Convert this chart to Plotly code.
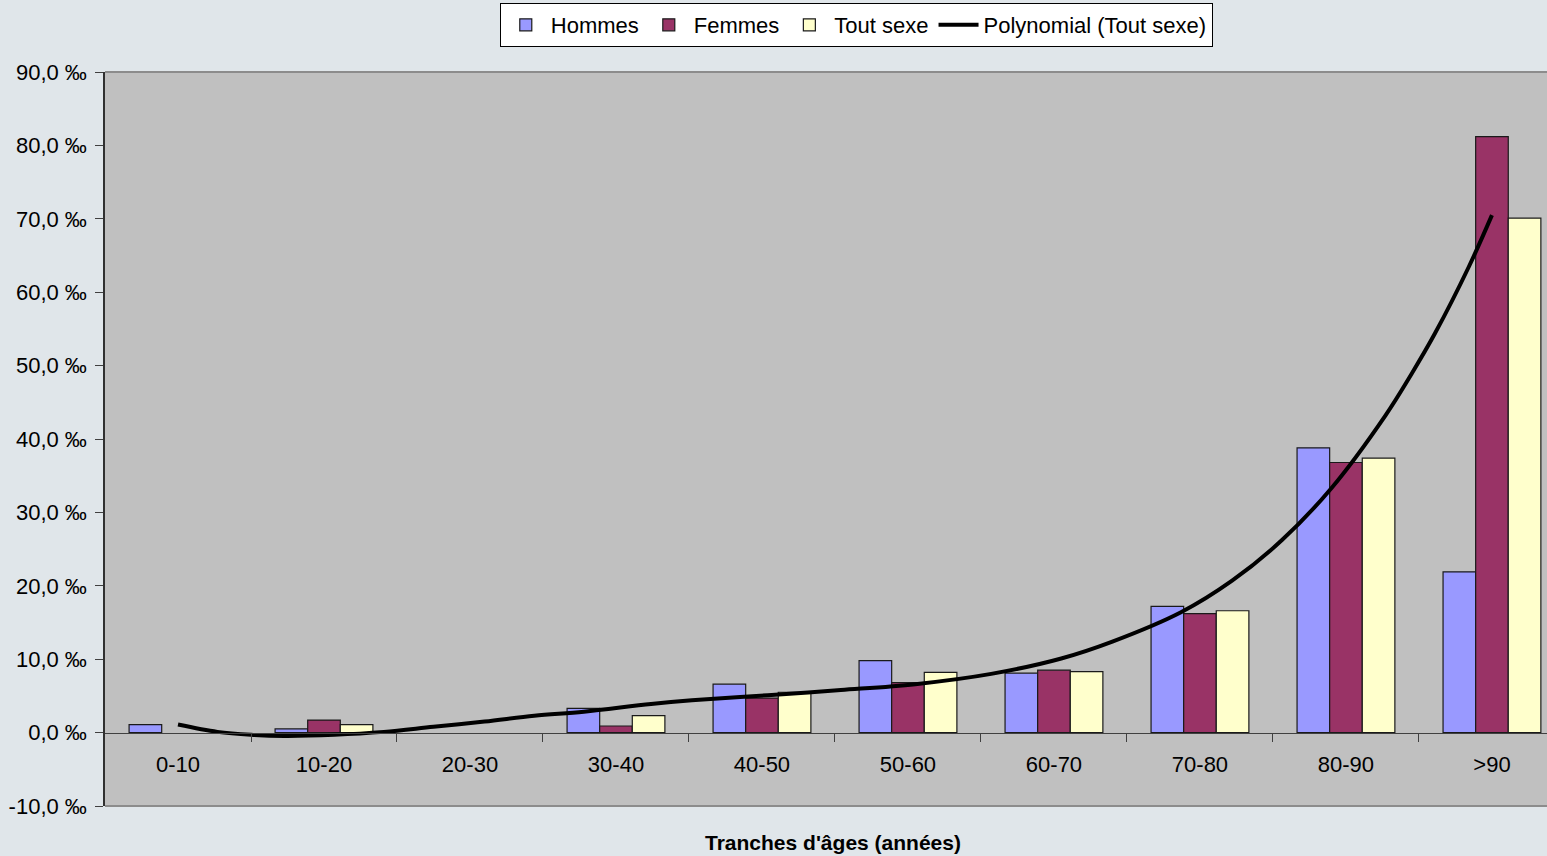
import plotly.graph_objects as go

# Age bands (x categories)
tranches = ["0-10", "10-20", "20-30", "30-40", "40-50", "50-60", "60-70", "70-80", "80-90", ">90"]

# Rates per thousand, by sex
hommes = [1.1, 0.5, 0.0, 3.3, 6.6, 9.8, 8.1, 17.2, 38.8, 21.9]
femmes = [0.0, 1.7, 0.0, 0.9, 4.7, 6.8, 8.5, 16.2, 36.8, 81.2]
tout_sexe = [0.0, 1.1, 0.0, 2.3, 5.5, 8.2, 8.3, 16.6, 37.4, 70.1]

# Polynomial trend of "Tout sexe", sampled along the age bands
trend_pos = [0.00, 0.27, 0.50, 0.73, 1.07, 1.41, 1.75, 2.10, 2.44, 2.78, 3.24, 3.52,
             4.04, 4.54, 5.05, 5.57, 6.05, 6.40, 6.87, 7.22, 7.56, 7.90, 8.27, 8.45,
             8.61, 8.84, 9.00]
trend_val = [1.1, 0.1, -0.3, -0.45, -0.3, 0.1, 0.8, 1.5, 2.3, 2.85, 3.9, 4.4,
             5.1, 5.8, 6.6, 8.0, 10.1, 12.4, 16.4, 20.7, 26.2, 33.3, 43.2, 48.9,
             54.4, 63.4, 70.5]

# Y axis ticks and their labels (per mille)
y_ticks = [-10, 0, 10, 20, 30, 40, 50, 60, 70, 80, 90]
y_labels = ["-10,0 ‰", "0,0 ‰", "10,0 ‰", "20,0 ‰", "30,0 ‰", "40,0 ‰",
            "50,0 ‰", "60,0 ‰", "70,0 ‰", "80,0 ‰", "90,0 ‰"]

FONT = "Liberation Sans, Arial, sans-serif"
FS = 22
positions = list(range(len(tranches)))
OUTLINE = dict(color="#1a1a1a", width=1.2)


def drawn(values):
    # empty age bands get no bar at all
    return [v if v > 0 else None for v in values]


fig = go.Figure()
fig.add_trace(go.Bar(name="Hommes", x=positions, y=drawn(hommes),
                     marker=dict(color="#9999FF", line=OUTLINE)))
fig.add_trace(go.Bar(name="Femmes", x=positions, y=drawn(femmes),
                     marker=dict(color="#993366", line=OUTLINE)))
fig.add_trace(go.Bar(name="Tout sexe", x=positions, y=drawn(tout_sexe),
                     marker=dict(color="#FFFFCC", line=OUTLINE)))
fig.add_trace(go.Scatter(name="Polynomial (Tout sexe)", x=trend_pos, y=trend_val,
                         mode="lines",
                         line=dict(color="black", width=4, shape="spline", smoothing=1.0)))

fig.update_layout(
    width=1547, height=856,
    margin=dict(l=105, r=0, t=72, b=50),
    paper_bgcolor="#e0e6ea",
    plot_bgcolor="#C0C0C0",
    barmode="group",
    bargap=0.33,
    bargroupgap=0,
    font=dict(family=FONT, size=FS, color="black"),
    showlegend=True,
    legend=dict(
        orientation="h", x=0.521, xanchor="center", y=1.0 + 47 / 734, yanchor="middle",
        bgcolor="white", bordercolor="black", borderwidth=1,
        font=dict(family=FONT, size=FS, color="black"),
        itemwidth=40, tracegroupgap=0,
    ),
    xaxis=dict(
        range=[-0.5, 9.377],
        anchor="free", position=0.1,
        tickmode="array", tickvals=positions, ticktext=tranches,
        ticks="outside", ticklen=12, tickcolor="rgba(0,0,0,0)",
        showline=True, linecolor="#404040", linewidth=1,
        showgrid=False, zeroline=False,
        minor=dict(tickmode="array", tickvals=[p + 0.5 for p in positions[:-1]],
                   ticks="outside", ticklen=8, tickcolor="#404040", tickwidth=1),
        tickfont=dict(family=FONT, size=FS, color="black"),
    ),
    yaxis=dict(
        range=[-10, 90],
        tickmode="array", tickvals=y_ticks, ticktext=y_labels,
        ticks="outside", ticklen=8, tickcolor="#404040", tickwidth=1,
        ticklabelstandoff=4,
        showline=True, linecolor="#303030", linewidth=1.5,
        showgrid=False, zeroline=False,
        tickfont=dict(family=FONT, size=FS, color="black"),
    ),
    shapes=[
        dict(type="line", xref="paper", yref="paper", x0=0, x1=1.02, y0=1, y1=1,
             line=dict(color="#8c8c8c", width=2)),
        dict(type="line", xref="paper", yref="paper", x0=0, x1=1.02, y0=0, y1=0,
             line=dict(color="#8c8c8c", width=2)),
    ],
    annotations=[
        dict(text="<b>Tranches d'âges (années)</b>", xref="paper", yref="paper",
             x=(833 - 105) / 1442, y=-36 / 734, xanchor="center", yanchor="middle",
             showarrow=False, font=dict(family=FONT, size=21, color="black")),
    ],
)

fig.write_html("out.html")
